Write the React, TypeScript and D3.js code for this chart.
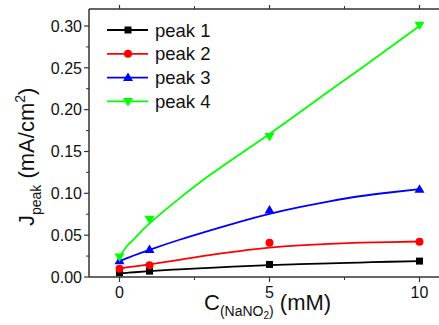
import React from "react";
import * as d3 from "d3";

const W = 439;
const H = 325;

// concentrations of the measured points
const concentrations = [0, 1, 5, 10];
const peak1 = [0.005, 0.007, 0.015, 0.019];
const peak2 = [0.010, 0.014, 0.041, 0.042];
const peak3 = [0.0195, 0.033, 0.080, 0.105];
const peak4 = [0.024, 0.069, 0.168, 0.301];

// fitted curves
const fitX = [0, 0.25, 0.5, 1, 2, 3, 4, 5, 6, 7, 8, 9, 10];
const fit1 = [0.0044, 0.005, 0.0057, 0.007, 0.0092, 0.011, 0.0127, 0.0141, 0.0153, 0.0164, 0.0173, 0.0182, 0.019];
const fit2 = [0.0104, 0.0116, 0.0127, 0.015, 0.0205, 0.0262, 0.031, 0.035, 0.0378, 0.0397, 0.041, 0.0418, 0.0424];
const fit3 = [0.019, 0.0225, 0.026, 0.0325, 0.0445, 0.0555, 0.066, 0.0755, 0.0835, 0.0905, 0.0965, 0.101, 0.105];
const fit4 = [0.024, 0.037, 0.046, 0.064, 0.094, 0.1215, 0.1465, 0.171, 0.1965, 0.2225, 0.248, 0.274, 0.300];

const seriesNames = ["peak 1", "peak 2", "peak 3", "peak 4"];
const seriesColors = ["#000000", "#ff0000", "#0000ff", "#00ff00"];
const seriesMarkers = ["square", "circle", "triangleUp", "triangleDown"];

const xTicks = [0, 5, 10];
const xMinor = [2.5, 7.5];
const yTicks = [0, 0.05, 0.1, 0.15, 0.2, 0.25, 0.3];
const yMinor = [0.025, 0.075, 0.125, 0.175, 0.225, 0.275];

const left = 89;
const top = 9;
const bottom = 277;

const x = d3.scaleLinear().domain([-1, 11]).range([left + 0.5, left + 0.5 + 360]);
const y = d3.scaleLinear().domain([0, 0.3203]).range([bottom, top]);

function Marker({ kind, cx, cy, color }: { kind: string; cx: number; cy: number; color: string }) {
  if (kind === "square") return <rect x={cx - 3.5} y={cy - 3.5} width={7} height={7} fill={color} />;
  if (kind === "circle") return <circle cx={cx} cy={cy} r={4} fill={color} />;
  if (kind === "triangleUp")
    return <path d={`M${cx},${cy - 5} L${cx + 5},${cy + 3.5} L${cx - 5},${cy + 3.5} Z`} fill={color} />;
  return <path d={`M${cx},${cy + 5} L${cx + 5},${cy - 3.5} L${cx - 5},${cy - 3.5} Z`} fill={color} />;
}

export default function App() {
  const pts = [peak1, peak2, peak3, peak4];
  const fits = [fit1, fit2, fit3, fit4];
  const line = d3
    .line<number>()
    .x((_, i) => x(fitX[i]))
    .y((d) => y(d))
    .curve(d3.curveNatural);
  const font = "Liberation Sans, Arial, sans-serif";
  const axisColor = "#333";
  const textColor = "#111";
  return (
    <svg width={W} height={H} style={{ position: "absolute", left: 0, top: 0 }} fontFamily={font}>
      <rect width={W} height={H} fill="#fff" />
      <defs>
        <clipPath id="plot">
          <rect x={left} y={top} width={W - left} height={bottom - top} />
        </clipPath>
      </defs>
      {/* curves */}
      <g clipPath="url(#plot)">
        {fits.map((f, i) => (
          <path key={i} d={line(f) || ""} fill="none" stroke={seriesColors[i]} strokeWidth={1.8} />
        ))}
        {pts.map((p, i) =>
          p.map((v, j) => (
            <Marker key={i + "-" + j} kind={seriesMarkers[i]} cx={x(concentrations[j])} cy={y(v)} color={seriesColors[i]} />
          ))
        )}
      </g>
      {/* frame */}
      <line x1={left} x2={W} y1={top} y2={top} stroke={axisColor} strokeWidth={1.5} />
      <line x1={left} x2={W} y1={bottom} y2={bottom} stroke={axisColor} strokeWidth={1.5} />
      <line x1={left} x2={left} y1={top} y2={bottom} stroke={axisColor} strokeWidth={1.5} />
      {/* y ticks */}
      {yTicks.map((t) => (
        <g key={"y" + t}>
          <line x1={left - 5} x2={left} y1={y(t)} y2={y(t)} stroke={axisColor} strokeWidth={1.2} />
          <text x={left - 7} y={y(t)} dy="0.36em" textAnchor="end" fontSize={16} fill={textColor}>
            {d3.format(".2f")(t)}
          </text>
        </g>
      ))}
      {yMinor.map((t) => (
        <line key={"ym" + t} x1={left - 3} x2={left} y1={y(t)} y2={y(t)} stroke={axisColor} strokeWidth={1} />
      ))}
      {/* x ticks */}
      {xTicks.map((t) => (
        <g key={"x" + t}>
          <line x1={x(t)} x2={x(t)} y1={bottom} y2={bottom + 5} stroke={axisColor} strokeWidth={1.2} />
          <line x1={x(t)} x2={x(t)} y1={top} y2={top - 4} stroke={axisColor} strokeWidth={1.2} />
          <text x={x(t)} y={bottom + 21} textAnchor="middle" fontSize={16} fill={textColor}>
            {t}
          </text>
        </g>
      ))}
      {xMinor.map((t) => (
        <g key={"xm" + t}>
          <line x1={x(t)} x2={x(t)} y1={bottom} y2={bottom + 3} stroke={axisColor} strokeWidth={1} />
          <line x1={x(t)} x2={x(t)} y1={top} y2={top - 3} stroke={axisColor} strokeWidth={1} />
        </g>
      ))}
      {/* axis titles */}
      <text x={204} y={310} fontSize={22} fill={textColor}>
        C<tspan fontSize={14} dy={6}>(NaNO</tspan>
        <tspan fontSize={10} dy={3}>2</tspan>
        <tspan fontSize={14} dy={-3}>)</tspan>
        <tspan fontSize={22} dy={-6}> (mM)</tspan>
      </text>
      <text transform={`translate(34,226) rotate(-90)`} fontSize={22} fill={textColor}>
        J<tspan fontSize={14} dy={7}>peak</tspan>
        <tspan fontSize={22} dy={-7}> (mA/cm</tspan>
        <tspan fontSize={14} dy={-9}>2</tspan>
        <tspan fontSize={22} dy={9}>)</tspan>
      </text>
      {/* legend */}
      {seriesNames.map((n, i) => {
        const ry = 30 + i * 23.8;
        return (
          <g key={n}>
            <line x1={107} x2={148} y1={ry} y2={ry} stroke={seriesColors[i]} strokeWidth={1.8} />
            <Marker kind={seriesMarkers[i]} cx={128} cy={ry} color={seriesColors[i]} />
            <text x={155} y={ry + 6.5} fontSize={18.5} fill={textColor}>
              {n}
            </text>
          </g>
        );
      })}
    </svg>
  );
}
